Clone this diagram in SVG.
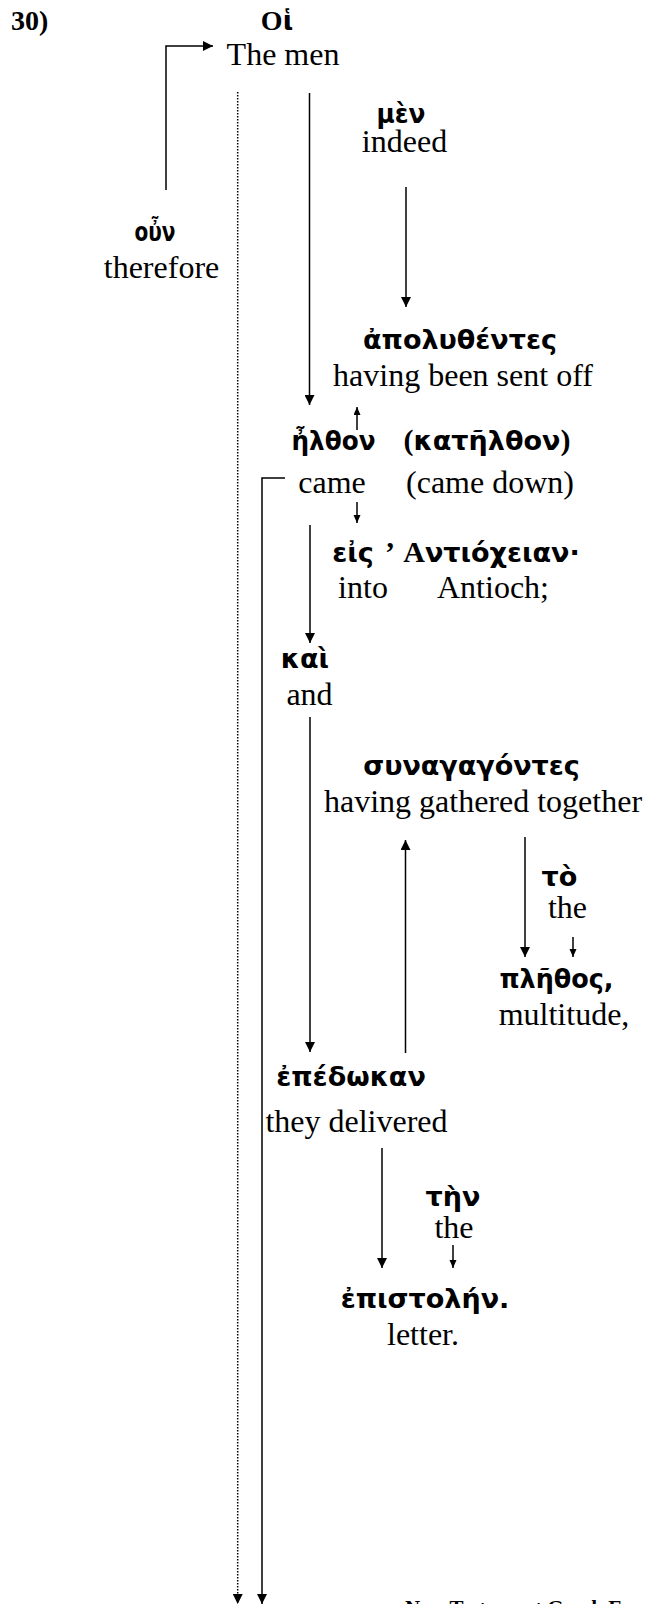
<svg xmlns="http://www.w3.org/2000/svg" width="647" height="1604" viewBox="0 0 647 1604">
  <style>
    .en { font-family: "Liberation Serif", "Times New Roman", serif; font-size: 32px; fill: #000; text-anchor: middle; }
    .gk { font-family: "DejaVu Sans", "Noto Sans", sans-serif; font-size: 27px; font-weight: bold; fill: #000; text-anchor: middle; }
    .rm { font-family: "Liberation Serif", "Times New Roman", serif; font-weight: bold; }
    .num { font-family: "Liberation Serif", "Times New Roman", serif; font-size: 28px; font-weight: bold; fill: #000; }
    .foot { font-family: "Liberation Serif", "Times New Roman", serif; font-size: 21px; font-weight: bold; fill: #000; }
    .ln { fill: none; stroke: #000; stroke-width: 1.5; }
    .dot { fill: none; stroke: #000; stroke-width: 1.5; stroke-dasharray: 1.5 1.5; }
  </style>
  <defs>
    <marker id="head" markerUnits="userSpaceOnUse" markerWidth="12" markerHeight="10" refX="10" refY="5" orient="auto">
      <path d="M0,0 L10,5 L0,10 Z" fill="#000"/>
    </marker>
    <marker id="headSm" markerUnits="userSpaceOnUse" markerWidth="10" markerHeight="8" refX="8" refY="3.5" orient="auto">
      <path d="M0,0 L8,3.5 L0,7 Z" fill="#000"/>
    </marker>
  </defs>
  <rect width="647" height="1604" fill="#fff"/>

  <text class="num" x="11" y="30">30)</text>

  <g id="connectors">
    <path class="ln" d="M166,190 V46 H213" marker-end="url(#head)"/>
    <path class="ln" d="M309.5,93 V405" marker-end="url(#head)"/>
    <path class="ln" d="M406,187 V307" marker-end="url(#head)"/>
    <path class="ln" d="M357,430 V407" marker-end="url(#headSm)"/>
    <path class="ln" d="M357,502 V523" marker-end="url(#headSm)"/>
    <path class="ln" d="M310,525 V643" marker-end="url(#head)"/>
    <path class="ln" d="M310,717 V1052" marker-end="url(#head)"/>
    <path class="ln" d="M405.5,1053 V840" marker-end="url(#head)"/>
    <path class="ln" d="M525,837 V957" marker-end="url(#head)"/>
    <path class="ln" d="M573,937 V957" marker-end="url(#headSm)"/>
    <path class="ln" d="M382,1148 V1268" marker-end="url(#head)"/>
    <path class="ln" d="M453,1245 V1268" marker-end="url(#headSm)"/>
    <path class="ln" d="M285,478 H262 V1604" marker-end="url(#head)"/>
    <path class="dot" d="M237.7,92 V1604" marker-end="url(#head)"/>
  </g>

  <g id="node-hoi">
    <text class="gk" x="277" y="30"><tspan class="rm" font-size="28">O</tspan>ἱ</text>
    <text class="en" x="283" y="65">The men</text>
  </g>
  <g id="node-men">
    <text class="gk" x="401" y="123" textLength="49" lengthAdjust="spacingAndGlyphs">μὲν</text>
    <text class="en" x="404.5" y="152">indeed</text>
  </g>
  <g id="node-oun">
    <text class="gk" x="155" y="241" textLength="41" lengthAdjust="spacingAndGlyphs">οὖν</text>
    <text class="en" x="161.5" y="278">therefore</text>
  </g>
  <g id="node-apolythentes">
    <text class="gk" x="460" y="349">ἀπολυθέντες</text>
    <text class="en" x="463" y="386">having been sent off</text>
  </g>
  <g id="node-elthon">
    <text class="gk" x="333.5" y="450" textLength="84" lengthAdjust="spacingAndGlyphs">ἦλθον</text>
    <text class="en" x="332" y="493">came</text>
  </g>
  <g id="node-katelthon">
    <text class="gk" x="487" y="450"><tspan class="rm" font-weight="normal" font-size="30">(</tspan>κατῆλθον<tspan class="rm" font-weight="normal" font-size="30">)</tspan></text>
    <text class="en" x="490" y="493">(came down)</text>
  </g>
  <g id="node-eis">
    <text class="gk" x="353" y="562">εἰς</text>
    <text class="en" x="363" y="598">into</text>
  </g>
  <g id="node-antiocheian">
    <text class="rm" x="390" y="562" font-size="30" text-anchor="middle">’</text>
    <text class="gk" x="491.5" y="562"><tspan class="rm" font-size="30">Α</tspan>ντιόχειαν·</text>
    <text class="en" x="493" y="598">Antioch;</text>
  </g>
  <g id="node-kai">
    <text class="gk" x="305" y="668">καὶ</text>
    <text class="en" x="309.5" y="705">and</text>
  </g>
  <g id="node-synagagontes">
    <text class="gk" x="471.5" y="775">συναγαγόντες</text>
    <text class="en" x="483" y="812">having gathered together</text>
  </g>
  <g id="node-to">
    <text class="gk" x="559.5" y="886">τὸ</text>
    <text class="en" x="567.5" y="918">the</text>
  </g>
  <g id="node-plethos">
    <text class="gk" x="556.5" y="988" textLength="114" lengthAdjust="spacingAndGlyphs">πλῆθος,</text>
    <text class="en" x="564" y="1025">multitude,</text>
  </g>
  <g id="node-epedokan">
    <text class="gk" x="351" y="1086">ἐπέδωκαν</text>
    <text class="en" x="356.5" y="1132">they delivered</text>
  </g>
  <g id="node-ten">
    <text class="gk" x="453" y="1206">τὴν</text>
    <text class="en" x="454" y="1238">the</text>
  </g>
  <g id="node-epistolen">
    <text class="gk" x="425" y="1308">ἐπιστολήν.</text>
    <text class="en" x="423" y="1345">letter.</text>
  </g>

  <text class="foot" x="405" y="1615">New Testament Greek E</text>
</svg>
